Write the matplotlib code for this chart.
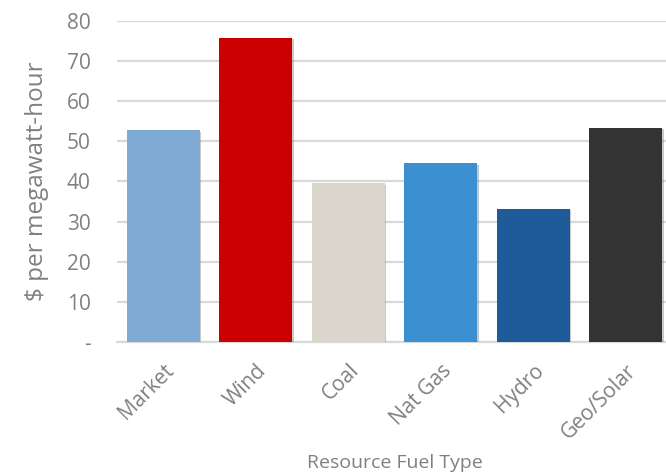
import matplotlib.pyplot as plt
import matplotlib.patheffects as pe
import numpy as np

fuel_types = ['Market', 'Wind', 'Coal', 'Nat Gas', 'Hydro', 'Geo/Solar']
cost = [52.7, 75.8, 39.5, 44.5, 33.2, 53.3]
bar_colors = ['#7eaad3', '#cc0000', '#dad6cc', '#3a90d0', '#1f5b9b', '#333333']
y_ticks = [0, 10, 20, 30, 40, 50, 60, 70, 80]
y_tick_labels = ['-', '10', '20', '30', '40', '50', '60', '70', '80']

plt.rcParams['font.family'] = ['Open Sans', 'DejaVu Sans']
text_grey = '#808080'

fig = plt.figure(figsize=(6.66, 4.75), dpi=100)
ax = fig.add_axes([0.176, 0.28, 0.833, 0.676])

x = np.arange(len(fuel_types))
shadow = [pe.SimplePatchShadow(offset=(1, -1), shadow_rgbFace='#888888', alpha=0.45), pe.Normal()]
bars = ax.bar(x, cost, width=0.79, color=bar_colors, zorder=3)
for b in bars:
    b.set_path_effects(shadow)

ax.set_xlim(-0.5, len(fuel_types) - 0.5)
ax.set_ylim(0, 80)
ax.set_yticks(y_ticks)
ax.set_yticklabels(y_tick_labels)
ax.yaxis.grid(True, color='#d9d9d9', linewidth=1.6, zorder=0)
ax.set_axisbelow(True)

for s in ['top', 'right', 'left']:
    ax.spines[s].set_visible(False)
ax.spines['bottom'].set_color('#d9d9d9')
ax.spines['bottom'].set_linewidth(1.6)

ax.tick_params(axis='y', length=0, pad=19, labelsize=15, labelcolor=text_grey)
ax.tick_params(axis='x', length=0, pad=13, labelsize=15, labelcolor=text_grey)
ax.set_xticks(x)
ax.set_xticklabels(fuel_types, rotation=45, ha='right', rotation_mode='anchor')

ax.set_ylabel('$ per megawatt-hour', fontsize=17.5, color=text_grey, labelpad=13)
ax.set_xlabel('Resource Fuel Type', fontsize=14, color=text_grey, labelpad=8)

fig.savefig('out.png', dpi=100)
